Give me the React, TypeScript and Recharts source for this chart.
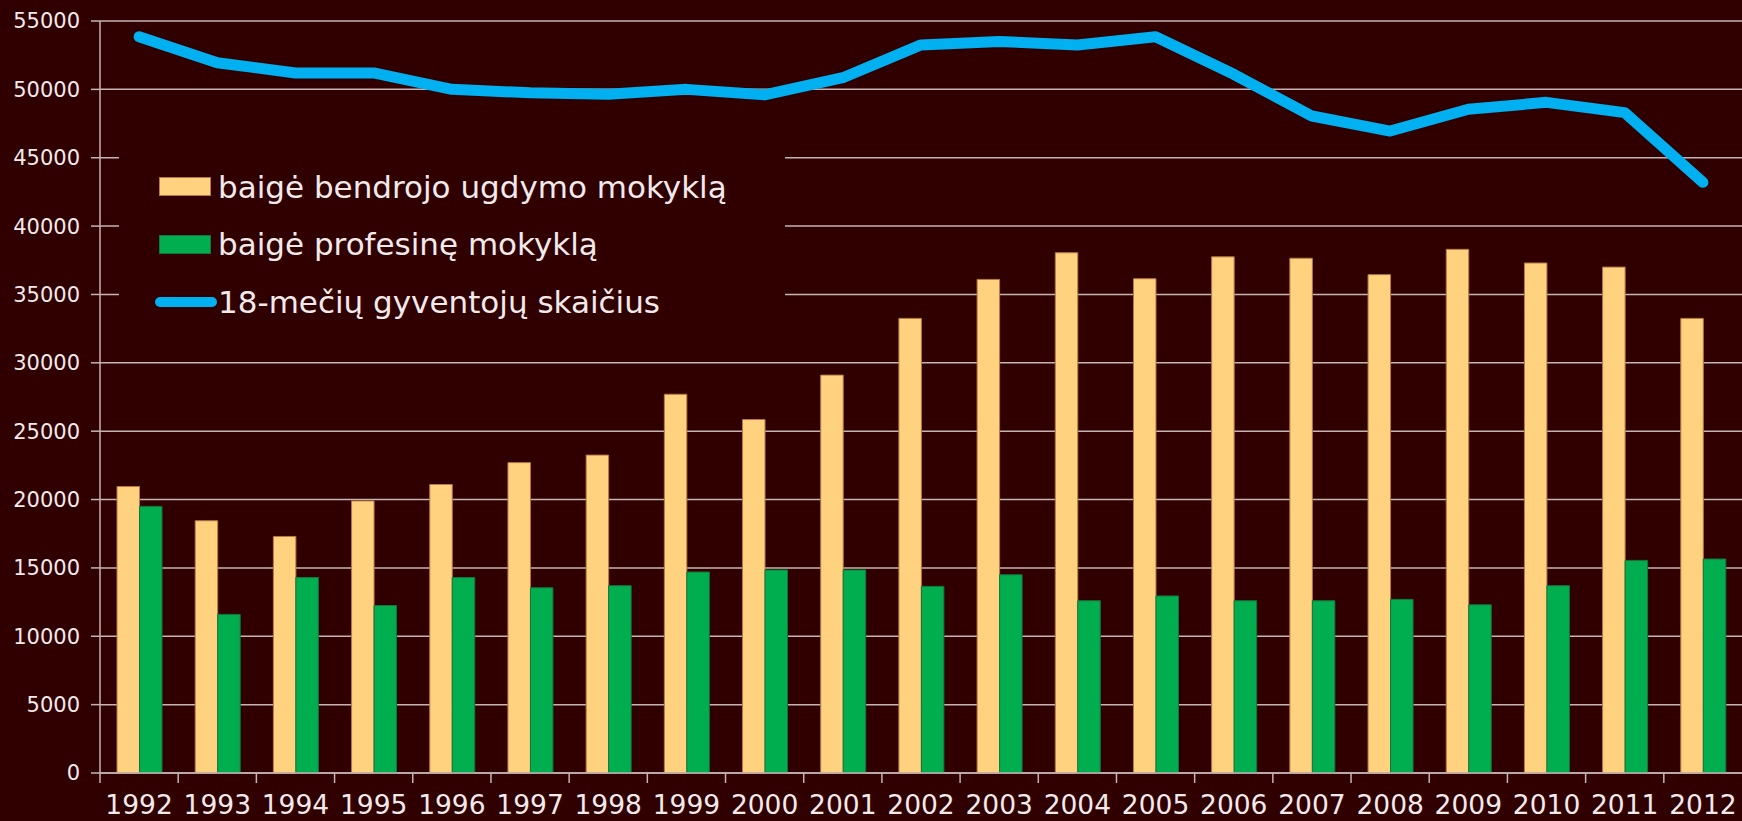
import React from "react";
import { ComposedChart, Bar, Line, XAxis, YAxis, CartesianGrid, Legend } from "recharts";

const years = [
  "1992", "1993", "1994", "1995", "1996", "1997", "1998", "1999", "2000", "2001", "2002",
  "2003", "2004", "2005", "2006", "2007", "2008", "2009", "2010", "2011", "2012",
];
const generalSchool = [
  20950, 18450, 17300, 19900, 21100, 22700, 23250, 27700, 25850, 29100, 33250,
  36100, 38050, 36150, 37750, 37650, 36450, 38300, 37300, 37000, 33250,
];
const vocationalSchool = [
  19500, 11600, 14300, 12250, 14300, 13550, 13700, 14700, 14850, 14850, 13650,
  14500, 12600, 12950, 12600, 12600, 12700, 12300, 13700, 15550, 15650,
];
const population18 = [
  53850, 51950, 51200, 51200, 50000, 49750, 49650, 50000, 49600, 50850, 53250,
  53500, 53250, 53850, 51100, 48050, 46950, 48550, 49050, 48300, 43200,
];
const yTicks = [0, 5000, 10000, 15000, 20000, 25000, 30000, 35000, 40000, 45000, 50000, 55000];
const seriesNames = ["baigė bendrojo ugdymo mokyklą", "baigė profesinę mokyklą", "18-mečių gyventojų skaičius"];

const data = years.map((year, i) => ({
  year,
  general: generalSchool[i],
  vocational: vocationalSchool[i],
  population: population18[i],
}));

const BG = "#300000";
const GRID = "#c4b4b4";
const TEXT = "#f2eaea";
const FONT = "'DejaVu Sans', Verdana, sans-serif";

function XTick(props: any) {
  const { x, y, payload } = props;
  const half = payload?.offset ?? 0;
  return (
    <g>
      <line x1={x - half} x2={x - half} y1={y} y2={y + 10} stroke={GRID} strokeWidth={1.5} />
      <text x={x} y={y + 41} textAnchor="middle" fill={TEXT} fontSize={26.5} fontFamily={FONT}>
        {payload.value}
      </text>
    </g>
  );
}

function LegendBox(props: any) {
  // keep the order of the series, not recharts' alphabetical one
  const items = [...(props.payload || [])].sort(
    (a: any, b: any) => seriesNames.indexOf(a.value) - seriesNames.indexOf(b.value)
  );
  return (
    <div style={{ background: BG, width: 666, height: 220, paddingTop: 28, boxSizing: "border-box", paddingLeft: 36 }}>
      {items.map((item: any) => (
        <div key={item.value} style={{ display: "flex", alignItems: "center", height: 57.5 }}>
          <div style={{ width: 62, display: "flex", alignItems: "center" }}>
            {item.type === "line" ? (
              <div style={{ width: 62, height: 10, borderRadius: 5, background: item.color }} />
            ) : (
              <div
                style={{
                  marginLeft: 4,
                  width: 52,
                  height: 19,
                  background: item.color,
                  boxSizing: "border-box",
                  border: `1px solid ${item.payload?.stroke ?? item.color}`,
                }}
              />
            )}
          </div>
          <span style={{ marginLeft: 1, color: TEXT, fontSize: 31, fontFamily: FONT, whiteSpace: "nowrap" }}>
            {item.value}
          </span>
        </div>
      ))}
    </div>
  );
}

export default function App() {
  return (
    <div style={{ position: "absolute", left: 0, top: 0, width: 1742, height: 821, background: BG }}>
      <ComposedChart
        width={1742}
        height={821}
        data={data}
        margin={{ top: 21, right: 0, bottom: 0, left: 0 }}
        barGap={0}
      >
        <CartesianGrid vertical={false} stroke={GRID} strokeWidth={1.5} />
        <XAxis
          dataKey="year"
          height={48}
          axisLine={{ stroke: GRID, strokeWidth: 1.5 }}
          tickLine={false}
          tickSize={0}
          tickMargin={0}
          interval={0}
          tick={<XTick />}
        />
        <YAxis
          width={100}
          domain={[0, 55000]}
          ticks={yTicks}
          interval={0}
          axisLine={{ stroke: GRID, strokeWidth: 1.5 }}
          tickLine={{ stroke: GRID, strokeWidth: 1.5 }}
          tickSize={9}
          tickMargin={11}
          tick={{ fill: TEXT, fontSize: 21, fontFamily: FONT }}
        />
        <Legend
          layout="vertical"
          align="center"
          verticalAlign="middle"
          wrapperStyle={{ left: 119, top: 130, width: 666, height: 220 }}
          content={<LegendBox />}
        />
        <Bar
          dataKey="general"
          name={seriesNames[0]}
          fill="#ffd27f"
          stroke="#b47a44"
          strokeWidth={1}
          barSize={22.5}
          isAnimationActive={false}
        />
        <Bar
          dataKey="vocational"
          name={seriesNames[1]}
          fill="#00ae4f"
          stroke="#17753a"
          strokeWidth={1}
          barSize={22.5}
          isAnimationActive={false}
        />
        <Line
          type="linear"
          dataKey="population"
          name={seriesNames[2]}
          stroke="#00b0f0"
          strokeWidth={11}
          strokeLinecap="round"
          strokeLinejoin="round"
          dot={false}
          activeDot={false}
          legendType="line"
          isAnimationActive={false}
        />
      </ComposedChart>
    </div>
  );
}
